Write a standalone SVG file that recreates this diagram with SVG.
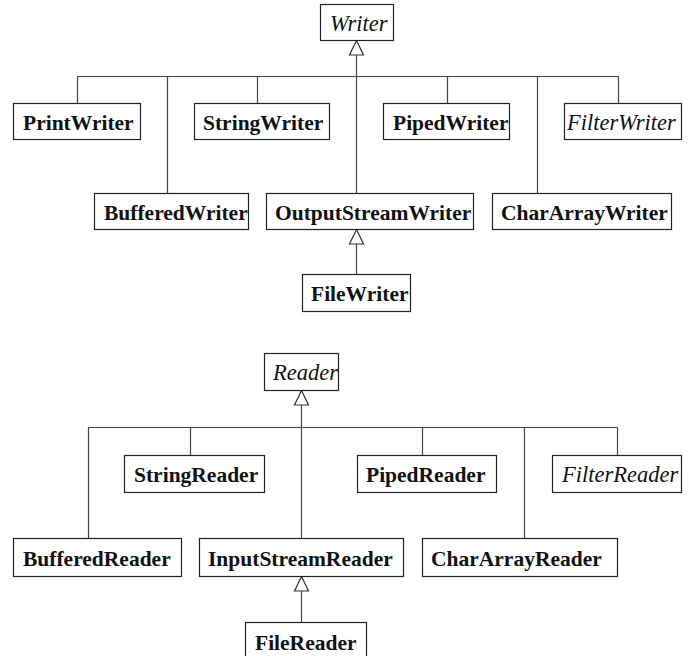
<svg xmlns="http://www.w3.org/2000/svg" width="689" height="656" viewBox="0 0 689 656" font-family="'Liberation Serif', 'Times New Roman', 'DejaVu Serif', serif">
<style>
rect{fill:#fff;stroke:#222;stroke-width:1.2}
text{font-family:'Liberation Serif','Times New Roman','DejaVu Serif',serif;fill:#111}
.b{font-weight:bold;font-size:21.5px}
.i{font-style:italic;font-size:22.5px}
#connectors line{stroke:#444;stroke-width:1.2;fill:none}
#connectors polygon{fill:#fff;stroke:#333;stroke-width:1.2}
</style>
<g id="connectors">
<line x1="77.5" y1="76.5" x2="618.5" y2="76.5"/>
<line x1="77.5" y1="76.5" x2="77.5" y2="103"/>
<line x1="167.5" y1="76.5" x2="167.5" y2="193"/>
<line x1="257.5" y1="76.5" x2="257.5" y2="103"/>
<line x1="447.5" y1="76.5" x2="447.5" y2="103"/>
<line x1="537.5" y1="76.5" x2="537.5" y2="193"/>
<line x1="618.5" y1="76.5" x2="618.5" y2="103"/>
<line x1="356.5" y1="55" x2="356.5" y2="193"/>
<polygon points="356.5,40.5 349.5,55 363.5,55"/>
<line x1="356.5" y1="244" x2="356.5" y2="274"/>
<polygon points="356.5,229.5 349.5,244 363.5,244"/>
<line x1="88.5" y1="427.5" x2="617.5" y2="427.5"/>
<line x1="88.5" y1="427.5" x2="88.5" y2="538"/>
<line x1="190.5" y1="427.5" x2="190.5" y2="455"/>
<line x1="422.5" y1="427.5" x2="422.5" y2="455"/>
<line x1="524.5" y1="427.5" x2="524.5" y2="538"/>
<line x1="617.5" y1="427.5" x2="617.5" y2="455"/>
<line x1="301.5" y1="405" x2="301.5" y2="538"/>
<polygon points="301.5,390.5 294.5,405 308.5,405"/>
<line x1="301.5" y1="591" x2="301.5" y2="622"/>
<polygon points="301.5,576.5 294.5,591 308.5,591"/>
</g>
<g id="Writer"><rect x="320.5" y="4.5" width="73" height="36"/><text class="i" x="330" y="31">Writer</text></g>
<g id="PrintWriter"><rect x="13.5" y="103.5" width="127" height="36"/><text class="b" x="23" y="130">PrintWriter</text></g>
<g id="StringWriter"><rect x="194.5" y="103.5" width="135" height="36"/><text class="b" x="203" y="130">StringWriter</text></g>
<g id="PipedWriter"><rect x="383.5" y="103.5" width="126" height="36"/><text class="b" x="393" y="130">PipedWriter</text></g>
<g id="FilterWriter"><rect x="564.5" y="103.5" width="117" height="36"/><text class="i" x="567" y="130">FilterWriter</text></g>
<g id="BufferedWriter"><rect x="94.5" y="193.5" width="154" height="36"/><text class="b" x="104" y="220">BufferedWriter</text></g>
<g id="OutputStreamWriter"><rect x="266.5" y="193.5" width="207" height="36"/><text class="b" x="275" y="220">OutputStreamWriter</text></g>
<g id="CharArrayWriter"><rect x="492.5" y="193.5" width="179" height="36"/><text class="b" x="501" y="220">CharArrayWriter</text></g>
<g id="FileWriter"><rect x="302.5" y="274.5" width="108" height="37"/><text class="b" x="311" y="301">FileWriter</text></g>
<g id="Reader"><rect x="264.5" y="353.5" width="74" height="37"/><text class="i" x="273" y="380">Reader</text></g>
<g id="StringReader"><rect x="124.5" y="455.5" width="140" height="37"/><text class="b" x="134" y="482">StringReader</text></g>
<g id="PipedReader"><rect x="357.5" y="455.5" width="139" height="37"/><text class="b" x="366" y="482">PipedReader</text></g>
<g id="FilterReader"><rect x="552.5" y="455.5" width="129" height="37"/><text class="i" x="562" y="482">FilterReader</text></g>
<g id="BufferedReader"><rect x="13.5" y="538.5" width="168" height="38"/><text class="b" x="23" y="566">BufferedReader</text></g>
<g id="InputStreamReader"><rect x="199.5" y="538.5" width="204" height="38"/><text class="b" x="208" y="566">InputStreamReader</text></g>
<g id="CharArrayReader"><rect x="422.5" y="538.5" width="195" height="38"/><text class="b" x="431" y="566">CharArrayReader</text></g>
<g id="FileReader"><rect x="245.5" y="622.5" width="121" height="40"/><text class="b" x="255" y="650">FileReader</text></g>
</svg>
